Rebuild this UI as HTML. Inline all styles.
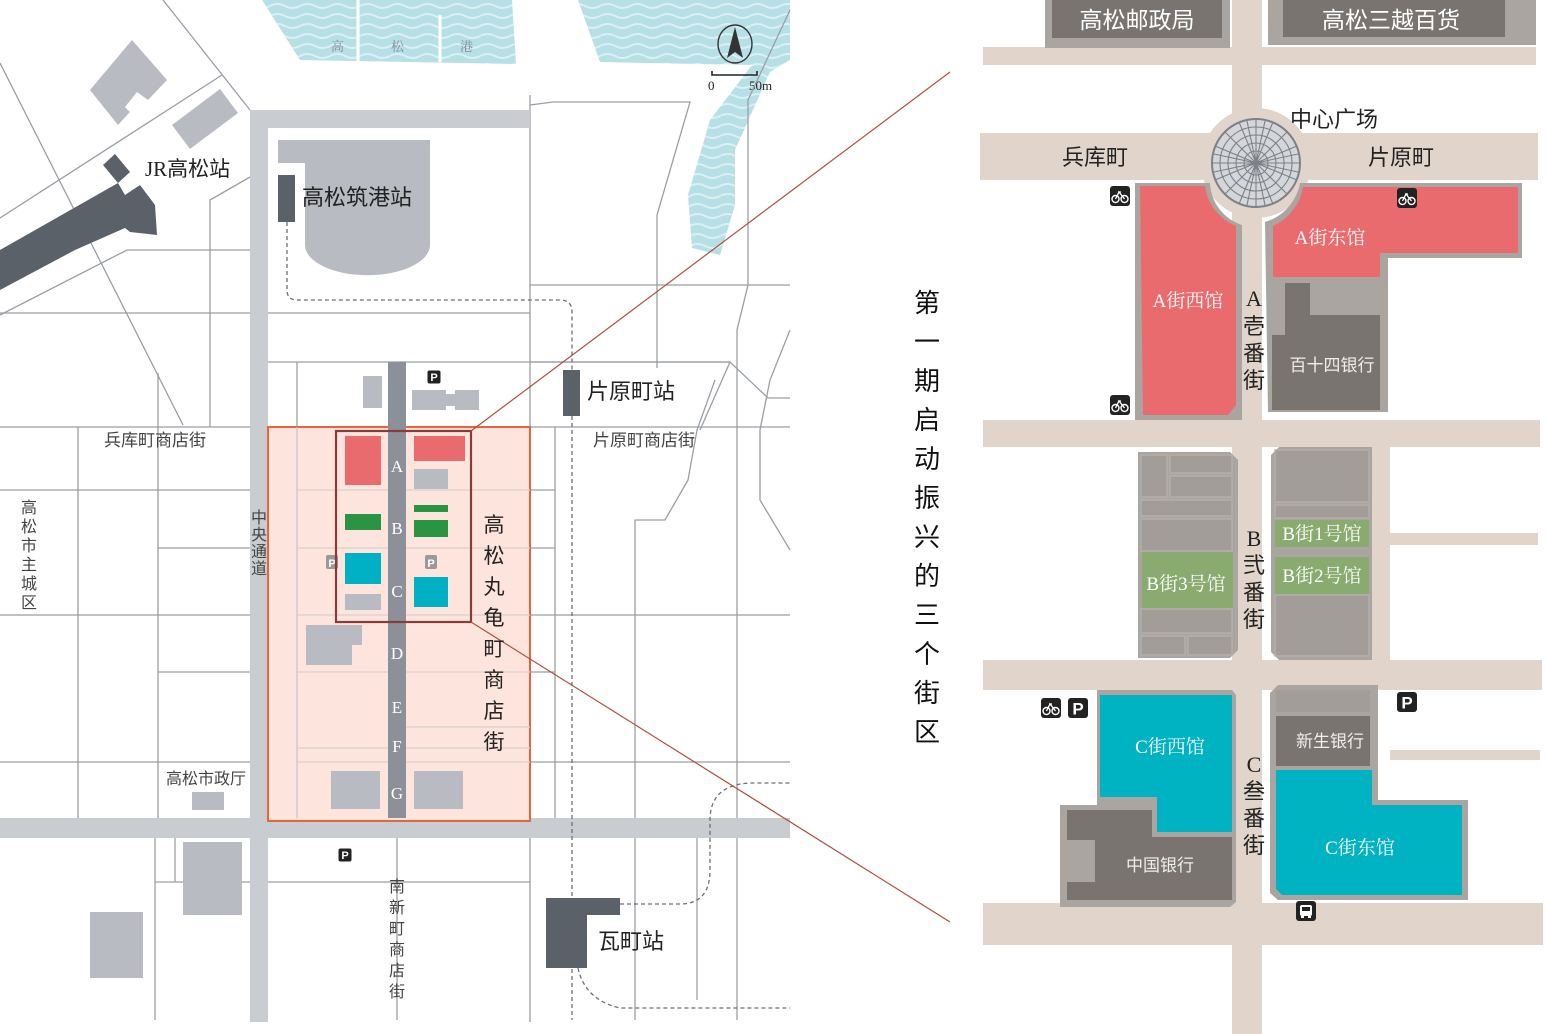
<!DOCTYPE html>
<html><head><meta charset="utf-8"><style>
html,body{margin:0;padding:0;background:#fff;}
svg{display:block;font-family:"Liberation Serif","Noto Serif CJK SC","Noto Sans CJK SC",serif;}
.s{font-family:"Liberation Sans","Noto Sans CJK SC",sans-serif;}
</style></head><body>
<svg width="1546" height="1034" viewBox="0 0 1546 1034" xmlns="http://www.w3.org/2000/svg">
<defs>
<pattern id="wv" width="30" height="10" patternUnits="userSpaceOnUse">
<rect width="30" height="10" fill="#b6e0e6"/>
<path d="M0 6 Q7.5 2 15 6 T30 6" stroke="#daf0f3" stroke-width="2" fill="none"/>
</pattern>
<g id="bike"><rect x="-10" y="-10" width="20" height="20" rx="3" fill="#222"/><circle cx="-4.5" cy="3" r="3.5" stroke="#fff" stroke-width="1.4" fill="none"/><circle cx="4.5" cy="3" r="3.5" stroke="#fff" stroke-width="1.4" fill="none"/><path d="M-4.5 3 L-1 -4 L4.5 3 M-2 -4 H1" stroke="#fff" stroke-width="1.3" fill="none"/></g>
<g id="pk"><rect x="-10" y="-10" width="20" height="20" rx="3" fill="#222"/><text x="0" y="6.5" text-anchor="middle" font-size="17" font-weight="bold" fill="#fff" font-family="Liberation Sans,sans-serif">P</text></g>
</defs>

<!-- ===== LEFT MAP ===== -->
<path d="M262 0 L512 0 L516 64 L300 60 Z" fill="url(#wv)"/>
<path d="M578 0 L790 0 L790 60 L770 72 L735 150 L735 205 L720 255 L692 248 L688 195 L710 120 L752 65 L600 62 Z" fill="url(#wv)"/>
<line x1="358" y1="0" x2="358" y2="62" stroke="#fff" stroke-width="3"/>
<line x1="440" y1="15" x2="440" y2="62" stroke="#fff" stroke-width="3"/>
<text x="331" y="51" font-size="13" fill="#889">高</text>
<text x="391" y="51" font-size="13" fill="#889">松</text>
<text x="460" y="51" font-size="13" fill="#889">港</text>
<ellipse cx="735" cy="44" rx="17" ry="19" fill="none" stroke="#333" stroke-width="1.4"/>
<path d="M735 27 L727 58 L735 52 L743 58 Z" fill="#333"/>
<path d="M712 71 V75 H757 V71" stroke="#222" stroke-width="1.6" fill="none"/>
<text x="708" y="90" font-size="13" fill="#222">0</text>
<text x="749" y="90" font-size="13" fill="#222">50m</text>

<g stroke="#9a9ea5" stroke-width="1.3" fill="none">
<line x1="0" y1="63" x2="183" y2="425"/>
<line x1="163" y1="0" x2="250" y2="110"/>
<line x1="0" y1="218" x2="222" y2="75"/>
<polyline points="0,315 127,250 250,250"/>
<line x1="0" y1="313" x2="250" y2="313"/>
<polyline points="250,177 210,200 210,427"/>
<line x1="158" y1="373" x2="158" y2="818"/>
<line x1="78" y1="427" x2="78" y2="818"/>
<line x1="0" y1="427" x2="790" y2="427"/>
<line x1="0" y1="490" x2="250" y2="490"/>
<line x1="158" y1="548" x2="250" y2="548"/>
<line x1="0" y1="615" x2="790" y2="615"/>
<line x1="158" y1="672" x2="250" y2="672"/>
<line x1="0" y1="762" x2="790" y2="762"/>
<line x1="268" y1="313" x2="530" y2="313"/>
<line x1="268" y1="362" x2="730" y2="362"/>
<line x1="530" y1="95" x2="530" y2="1022"/>
<line x1="297" y1="362" x2="297" y2="818"/>
<polyline points="530,105 553,102 690,102 657,215 657,368"/>
<polyline points="790,10 748,100 748,285 737,330 737,1020"/>
<line x1="530" y1="285" x2="790" y2="285"/>
<polyline points="530,362 730,362 768,398 790,398"/>
<polyline points="715,380 697,430 688,480 665,520 635,520 635,1020"/>
<polyline points="790,330 770,380 760,430 760,500 790,550"/>
<line x1="730" y1="362" x2="700" y2="430"/>
<line x1="530" y1="490" x2="555" y2="490"/>
<line x1="530" y1="548" x2="555" y2="548"/>
<line x1="530" y1="672" x2="555" y2="672"/>
<line x1="555" y1="427" x2="555" y2="818"/>
<line x1="155" y1="838" x2="155" y2="1020"/>
<line x1="175" y1="838" x2="175" y2="882"/>
<line x1="155" y1="882" x2="250" y2="882"/>
<line x1="268" y1="882" x2="530" y2="882"/>
<line x1="397" y1="838" x2="397" y2="1020"/>
<line x1="697" y1="838" x2="697" y2="1000"/>
</g>
<rect x="250" y="110" width="18" height="912" fill="#c9ccd1"/>
<rect x="250" y="110" width="280" height="18" fill="#c9ccd1"/>
<rect x="0" y="818" width="790" height="20" fill="#c9ccd1"/>

<path d="M90 90 L132 40 L167 80 L148 100 L137 92 L125 107 L130 112 L118 125 Z" fill="#b8bcc2"/>
<path d="M172 125 L220 89 L238 113 L190 149 Z" fill="#b8bcc2"/>
<path d="M103 165 L115 154 L130 172 L118 183 Z" fill="#5b6168"/>
<path d="M0 250 L118 183 L125 195 L140 185 L155 205 L157 235 L130 232 L125 228 L75 250 L0 290 Z" fill="#5b6168"/>
<path d="M278 140 H430 V245 A62 30 0 0 1 305 245 V163 H278 Z" fill="#b8bcc2"/>
<rect x="278" y="175" width="17" height="47" fill="#5b6168"/>
<path d="M287 222 V290 Q287 300 297 300 H560 Q572 300 572 312 V370" stroke="#6b7078" stroke-width="1.3" stroke-dasharray="4 3" fill="none"/>
<rect x="563" y="370" width="17" height="46" fill="#5b6168"/>
<line x1="572" y1="416" x2="572" y2="1020" stroke="#6b7078" stroke-width="1.3" stroke-dasharray="4 3"/>
<path d="M620 904 H680 Q710 904 710 870 V820 Q710 785 750 783 H790" stroke="#6b7078" stroke-width="1.3" stroke-dasharray="4 3" fill="none"/>
<path d="M578 968 Q585 1000 620 1008 H790" stroke="#6b7078" stroke-width="1.3" stroke-dasharray="4 3" fill="none"/>
<path d="M546 898 H620 V915 H587 V968 H546 Z" fill="#5b6168"/>

<rect x="268" y="427" width="262" height="394" fill="#fde5de" stroke="#e8643a" stroke-width="2"/>
<g stroke="#dcd0cd" stroke-width="1.2">
<line x1="297" y1="490" x2="530" y2="490"/><line x1="297" y1="548" x2="530" y2="548"/>
<line x1="297" y1="615" x2="530" y2="615"/><line x1="297" y1="672" x2="530" y2="672"/>
<line x1="406" y1="727" x2="530" y2="727"/><line x1="297" y1="748" x2="530" y2="748"/>
<line x1="297" y1="762" x2="530" y2="762"/>
</g>
<line x1="297" y1="427" x2="297" y2="818" stroke="#c9c2c4" stroke-width="1.2"/>
<rect x="388" y="362" width="18" height="456" fill="#8c9099"/>
<rect x="363" y="376" width="19" height="32" fill="#b8bcc2"/>
<path d="M412 390 H446 V394 H455 V390 H479 V410 H455 V406 H446 V410 H412 Z" fill="#b8bcc2"/>
<use href="#pk" transform="translate(434,377) scale(0.65)"/>
<rect x="345" y="436" width="36" height="49" fill="#e96b6e"/>
<rect x="414" y="436" width="51" height="25" fill="#e96b6e"/>
<rect x="414" y="469" width="34" height="20" fill="#b8bcc2"/>
<rect x="345" y="514" width="36" height="16" fill="#2a9443"/>
<rect x="414" y="505" width="34" height="7" fill="#2a9443"/>
<rect x="414" y="520" width="34" height="17" fill="#2a9443"/>
<rect x="345" y="553" width="36" height="31" fill="#00b0c4"/>
<rect x="345" y="594" width="36" height="16" fill="#b8bcc2"/>
<rect x="414" y="577" width="34" height="30" fill="#00b0c4"/>
<rect x="326" y="555" width="12" height="14" rx="2" fill="#999"/><text x="332" y="567" text-anchor="middle" font-size="11" font-weight="bold" fill="#fff" class="s">P</text>
<rect x="425" y="555" width="12" height="14" rx="2" fill="#999"/><text x="431" y="567" text-anchor="middle" font-size="11" font-weight="bold" fill="#fff" class="s">P</text>
<path d="M306 625 H362 V645 H352 V665 H306 Z" fill="#b8bcc2"/>
<rect x="331" y="771" width="49" height="38" fill="#b8bcc2"/>
<rect x="414" y="771" width="49" height="38" fill="#b8bcc2"/>
<rect x="336" y="431" width="135" height="191" fill="none" stroke="#8b3a3a" stroke-width="2.2"/>
<g font-size="17" fill="#fff" text-anchor="middle">
<text x="397" y="472">A</text><text x="397" y="534">B</text><text x="397" y="597">C</text>
<text x="397" y="659">D</text><text x="397" y="713">E</text><text x="397" y="752">F</text><text x="397" y="799">G</text>
</g>
<rect x="183" y="842" width="59" height="73" fill="#b8bcc2"/>
<rect x="90" y="912" width="53" height="66" fill="#b8bcc2"/>
<rect x="192" y="792" width="32" height="18" fill="#b8bcc2"/>
<use href="#pk" transform="translate(345,855) scale(0.65)"/>

<line x1="471" y1="431" x2="950" y2="72" stroke="#b0503c" stroke-width="1.2"/>
<line x1="471" y1="622" x2="950" y2="922" stroke="#b0503c" stroke-width="1.2"/>

<g class="s" fill="#222">
<text x="145" y="176" font-size="21" font-family="Liberation Serif,Noto Sans CJK SC,serif">JR高松站</text>
<text x="302" y="205" font-size="22">高松筑港站</text>
<text x="587" y="399" font-size="22">片原町站</text>
<text x="598" y="949" font-size="22">瓦町站</text>
<text x="104" y="446" font-size="17" fill="#444">兵库町商店街</text>
<text x="593" y="446" font-size="17" fill="#444">片原町商店街</text>
<text x="166" y="784" font-size="16" fill="#444">高松市政厅</text>
<g font-size="16" fill="#444" text-anchor="middle">
<text x="29" y="513">高</text><text x="29" y="532">松</text><text x="29" y="551">市</text><text x="29" y="570">主</text><text x="29" y="589">城</text><text x="29" y="608">区</text>
<text x="259" y="523">中</text><text x="259" y="540">央</text><text x="259" y="557">通</text><text x="259" y="574">道</text>
<text x="397" y="892">南</text><text x="397" y="913">新</text><text x="397" y="934">町</text><text x="397" y="955">商</text><text x="397" y="976">店</text><text x="397" y="997">街</text>
</g>
<g font-size="21" text-anchor="middle">
<text x="494" y="532">高</text><text x="494" y="563">松</text><text x="494" y="594">丸</text><text x="494" y="625">龟</text><text x="494" y="656">町</text><text x="494" y="687">商</text><text x="494" y="718">店</text><text x="494" y="749">街</text>
</g>
</g>

<g font-size="26" fill="#111" text-anchor="middle" class="s">
<text x="927" y="312">第</text><text x="927" y="351">一</text><text x="927" y="390">期</text><text x="927" y="429">启</text><text x="927" y="468">动</text><text x="927" y="507">振</text><text x="927" y="546">兴</text><text x="927" y="585">的</text><text x="927" y="624">三</text><text x="927" y="663">个</text><text x="927" y="702">街</text><text x="927" y="741">区</text>
</g>

<!-- ===== RIGHT MAP ===== -->
<g fill="#e0d4cb">
<rect x="983" y="47" width="553" height="18"/>
<rect x="1232" y="0" width="30" height="1034"/>
<rect x="980" y="133" width="558" height="47"/>
<rect x="983" y="420" width="557" height="27"/>
<rect x="983" y="660" width="559" height="30"/>
<rect x="983" y="903" width="560" height="42"/>
<rect x="1358" y="440" width="32" height="250"/>
<rect x="1390" y="533" width="148" height="12"/>
<rect x="1390" y="750" width="150" height="10"/>
<circle cx="1256" cy="163" r="55"/>
</g>
<rect x="1045" y="0" width="185" height="48" fill="#aaa5a1"/>
<rect x="1052" y="0" width="170" height="38" fill="#7a7470"/>
<rect x="1268" y="0" width="268" height="45" fill="#aaa5a1"/>
<rect x="1283" y="0" width="222" height="37" fill="#7a7470"/>
<text x="1137" y="28" font-size="23" fill="#fff" text-anchor="middle" class="s">高松邮政局</text>
<text x="1391" y="28" font-size="23" fill="#fff" text-anchor="middle" class="s">高松三越百货</text>
<path d="M1135 183 H1210 A46 46 0 0 0 1242 225 V420 H1135 Z" fill="#aaa5a1"/>
<path d="M1140 186 H1205 A50 50 0 0 0 1236 226 V405 L1228 415 H1143 Z" fill="#e96b6e"/>
<path d="M1265 222 A50 50 0 0 0 1300 183 H1522 V258 H1388 V412 H1268 Z" fill="#aaa5a1"/>
<path d="M1273 226 A52 52 0 0 0 1303 187 H1518 V253 H1380 V277 H1273 Z" fill="#e96b6e"/>
<path d="M1285 283 H1310 V315 H1380 V410 H1272 V335 H1285 Z" fill="#7a7470"/>
<g stroke="#7d8187" fill="none" stroke-width="1.1">
<circle cx="1256" cy="163" r="44" fill="#d4d6d9" stroke-width="2"/>
<circle cx="1256" cy="163" r="36"/><circle cx="1256" cy="163" r="28"/><circle cx="1256" cy="163" r="20"/><circle cx="1256" cy="163" r="12"/>
<path d="M1212 163 H1300 M1256 119 V207 M1225 132 L1287 194 M1287 132 L1225 194 M1215 146 L1297 180 M1215 180 L1297 146 M1239 122 L1273 204 M1273 122 L1239 204 M1214 154 L1298 172 M1214 172 L1298 154 M1247 121 L1265 205 M1265 121 L1247 205"/>
</g>
<path d="M1138 452 H1230 L1238 460 V650 L1230 658 H1138 Z" fill="#aaa5a1"/>
<g fill="#a39d99" stroke="#b5afab" stroke-width="1.5">
<rect x="1141" y="455" width="26" height="42"/><rect x="1170" y="455" width="62" height="18"/><rect x="1170" y="476" width="62" height="21"/>
<rect x="1141" y="500" width="91" height="16"/><rect x="1141" y="519" width="91" height="32"/>
<rect x="1141" y="609" width="91" height="24"/><rect x="1141" y="636" width="44" height="19"/><rect x="1188" y="636" width="44" height="19"/>
</g>
<rect x="1142" y="552" width="91" height="56" fill="#8aab6f"/>
<path d="M1279 447 H1372 V660 H1279 L1271 652 V455 Z" fill="#aaa5a1"/>
<g fill="#a39d99" stroke="#b5afab" stroke-width="1.5">
<rect x="1275" y="450" width="94" height="52"/><rect x="1275" y="505" width="94" height="13"/><rect x="1275" y="595" width="94" height="61"/>
</g>
<rect x="1275" y="520" width="94" height="27" fill="#8aab6f"/>
<rect x="1275" y="557" width="94" height="37" fill="#8aab6f"/>
<path d="M1097 690 H1232 L1236 695 V902 L1230 907 H1060 V805 H1097 Z" fill="#aaa5a1"/>
<path d="M1100 695 H1232 V832 H1157 V797 H1100 Z" fill="#00b3c2"/>
<path d="M1067 810 H1152 V837 H1232 V900 H1067 Z" fill="#7a7470"/>
<rect x="1067" y="840" width="28" height="42" fill="#aaa5a1"/>
<path d="M1278 685 H1378 V800 H1468 V900 H1278 L1270 893 V693 Z" fill="#aaa5a1"/>
<rect x="1276" y="690" width="94" height="22" fill="#a39d99"/>
<rect x="1276" y="716" width="94" height="50" fill="#7a7470"/>
<path d="M1276 770 H1372 V805 H1462 V895 H1282 L1276 889 Z" fill="#00b3c2"/>

<use href="#bike" x="1120" y="196"/>
<use href="#bike" x="1407" y="198"/>
<use href="#bike" x="1120" y="405"/>
<use href="#bike" x="1051" y="708"/>
<use href="#pk" x="1078" y="708"/>
<use href="#pk" x="1407" y="702"/>
<g transform="translate(1306,911)"><rect x="-10" y="-10" width="20" height="20" rx="3" fill="#222"/><rect x="-6" y="-6" width="12" height="11" rx="2" fill="#fff"/><rect x="-4" y="-4" width="8" height="4" fill="#222"/><rect x="-5" y="5" width="3" height="2" fill="#fff"/><rect x="2" y="5" width="3" height="2" fill="#fff"/></g>

<g fill="#222" class="s">
<text x="1290" y="127" font-size="22">中心广场</text>
<text x="1062" y="165" font-size="22">兵库町</text>
<text x="1368" y="165" font-size="22">片原町</text>
</g>
<g fill="#fff" font-size="19" text-anchor="middle">
<text x="1188" y="307">A街西馆</text>
<text x="1330" y="244">A街东馆</text>
<text x="1186" y="590">B街3号馆</text>
<text x="1322" y="540">B街1号馆</text>
<text x="1322" y="582">B街2号馆</text>
<text x="1170" y="753">C街西馆</text>
<text x="1360" y="854">C街东馆</text>
</g>
<g fill="#eee" font-size="17" text-anchor="middle" class="s">
<text x="1332" y="371">百十四银行</text>
<text x="1330" y="747">新生银行</text>
<text x="1160" y="871">中国银行</text>
</g>
<g fill="#222" font-size="22" text-anchor="middle">
<text x="1254" y="306">A</text><text x="1254" y="334" class="s">壱</text><text x="1254" y="361" class="s">番</text><text x="1254" y="388" class="s">街</text>
<text x="1254" y="546">B</text><text x="1254" y="573" class="s">弐</text><text x="1254" y="600" class="s">番</text><text x="1254" y="627" class="s">街</text>
<text x="1254" y="772">C</text><text x="1254" y="799" class="s">叁</text><text x="1254" y="826" class="s">番</text><text x="1254" y="853" class="s">街</text>
</g>
</svg>
</body></html>
